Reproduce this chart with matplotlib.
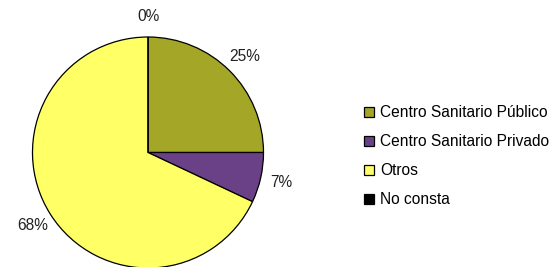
import matplotlib.pyplot as plt

plt.rcParams['font.family'] = ['Liberation Sans', 'DejaVu Sans']

categories = ['Centro Sanitario Público', 'Centro Sanitario Privado', 'Otros', 'No consta']
values = [25, 7, 68, 0]
colors = ['#A3A626', '#6A4187', '#FFFF66', '#000000']

fig = plt.figure(figsize=(5.56, 2.67), dpi=100)
ax = fig.add_axes([0, 0, 1, 1])

wedges, texts, autotexts = ax.pie(
    values, colors=colors, startangle=90, counterclock=False,
    center=(148, 267 - 152.5), radius=115.5,
    autopct='%1.0f%%', pctdistance=1.18,
    wedgeprops=dict(edgecolor='black', linewidth=0.9),
    textprops=dict(fontsize=11.2, color='#222222'),
    frame=True)
ax.set_xlim(0, 556)
ax.set_ylim(0, 267)
ax.set_aspect('equal')
ax.axis('off')

leg = fig.legend(wedges, categories, loc='center left',
                 bbox_to_anchor=(0.629, 0.414), frameon=False,
                 fontsize=11.2, handlelength=0.64, handleheight=0.64,
                 handletextpad=0.4, labelspacing=0.9)

fig.savefig('out.png', dpi=100)
